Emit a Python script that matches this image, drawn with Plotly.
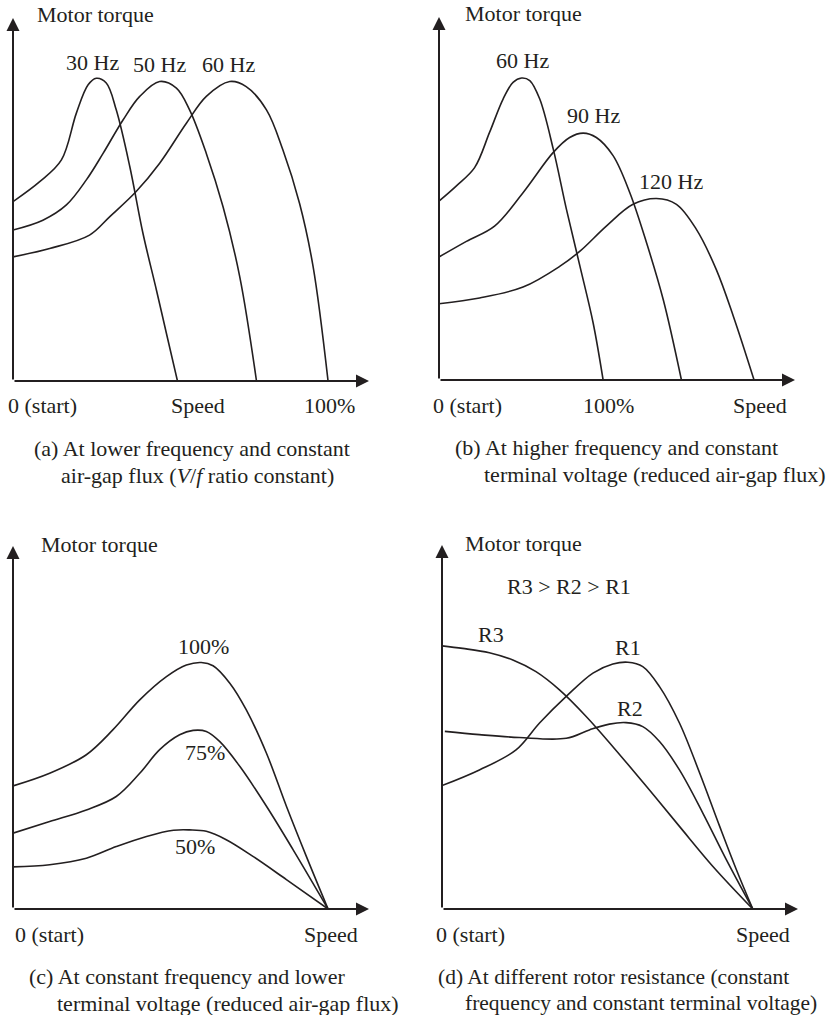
import plotly.graph_objects as go

# ---------------- data (speed %, torque %) ----------------
# Panel (a): lower frequency, constant air-gap flux
a_labels = ["30 Hz", "50 Hz", "60 Hz"]
a_speed_30 = [0, 7.5, 13.6, 17.8, 21.1, 23.4, 26.2, 29.0, 32.8, 36.5, 40.3, 43.1, 46.2]
a_torque_30 = [49.4, 54.9, 60.9, 73.8, 81.6, 83.4, 82.1, 74.7, 59.1, 40.7, 25.0, 13.1, 0]
a_speed_50 = [0, 8.4, 15.0, 20.6, 25.3, 30.9, 35.6, 41.2, 45.9, 49.6, 54.3, 59.0, 63.7, 68.4]
a_torque_50 = [41.6, 44.3, 48.5, 55.4, 62.7, 71.9, 78.4, 82.5, 80.7, 74.7, 62.7, 48.0, 28.7, 0]
a_speed_60 = [0, 10.3, 21.5, 27.2, 34.6, 41.2, 48.7, 54.3, 60.9, 65.5, 71.2, 75.8, 80.5, 84.3, 88.5]
a_torque_60 = [34.2, 36.5, 40.2, 45.3, 52.2, 60.0, 71.0, 78.4, 82.5, 81.1, 74.7, 63.7, 48.9, 31.5, 0]

# Panel (b): higher frequency, constant terminal voltage
b_labels = ["60 Hz", "90 Hz", "120 Hz"]
b_speed_60 = [0, 4.9, 10.0, 14.2, 18.0, 20.8, 23.2, 25.5, 28.3, 32.1, 35.8, 39.6, 43.3, 46.1]
b_torque_60 = [49.3, 53.5, 58.5, 68.2, 77.4, 82.0, 83.2, 82.5, 77.4, 63.6, 47.0, 31.3, 15.7, 0]
b_speed_90 = [0, 7.7, 15.6, 23.6, 32.1, 36.7, 40.5, 44.2, 48.9, 53.6, 58.3, 63.0, 68.1]
b_torque_90 = [33.9, 38.2, 42.4, 51.6, 62.7, 66.8, 68.0, 66.8, 61.8, 51.6, 37.8, 22.1, 0]
b_speed_120 = [0, 11.4, 23.6, 33.9, 39.6, 47.0, 54.5, 61.1, 66.7, 72.3, 77.9, 82.7, 88.5]
b_torque_120 = [21.0, 22.6, 25.6, 31.3, 35.5, 42.4, 48.4, 50.0, 48.4, 41.5, 30.4, 17.5, 0]

# Panel (c): constant frequency, lower terminal voltage
c_labels = ["100%", "75%", "50%"]
c_speed_100 = [0, 10.3, 20.6, 28.1, 35.6, 43.1, 48.7, 52.9, 56.2, 60.9, 65.5, 71.2, 76.8, 82.4, 88.5]
c_torque_100 = [33.9, 37.4, 42.5, 49.4, 57.6, 64.0, 67.2, 67.9, 67.0, 62.2, 54.9, 42.9, 28.3, 14.5, 0]
c_speed_75 = [0, 10.3, 20.6, 29.0, 35.6, 41.2, 46.8, 50.6, 54.3, 58.1, 63.7, 71.2, 78.7, 88.5]
c_torque_75 = [20.9, 24.1, 27.3, 31.0, 37.4, 43.9, 48.0, 49.2, 48.9, 46.1, 39.3, 28.3, 16.3, 0]
c_speed_50 = [0, 10.3, 20.6, 29.0, 37.5, 45.1, 49.6, 54.3, 59.9, 67.4, 76.8, 88.5]
c_torque_50 = [11.6, 12.2, 14.0, 17.2, 20.0, 21.7, 21.8, 21.4, 19.1, 14.5, 8.1, 0]

# Panel (d): different rotor resistance
d_labels = ["R1", "R2", "R3"]
d_speed_r3 = [0, 5.8, 13.3, 19.9, 26.4, 33.0, 40.5, 48.0, 57.4, 66.7, 76.1, 87.3]
d_torque_r3 = [72.3, 71.6, 70.4, 68.4, 65.2, 60.2, 52.9, 44.6, 33.7, 22.7, 11.7, 0]
d_speed_r1 = [0, 10.5, 20.8, 27.4, 34.9, 42.4, 48.0, 52.2, 56.4, 61.1, 66.7, 72.4, 78.0, 82.7, 87.3]
d_torque_r1 = [33.9, 38.2, 43.7, 51.1, 58.4, 64.8, 67.3, 67.8, 66.6, 61.1, 51.1, 37.3, 22.7, 10.8, 0]
d_speed_r2 = [0.8, 10.5, 21.7, 34.9, 41.4, 47.0, 51.7, 56.4, 61.1, 66.7, 73.3, 79.9, 87.3]
d_torque_r2 = [48.8, 47.9, 47.1, 46.9, 49.2, 50.8, 51.2, 50.1, 46.0, 38.2, 26.3, 13.5, 0]

axis_title_y = "Motor torque"
captions = {
    "a": ["(a) At lower frequency and constant", "air-gap flux (<i>V</i>/<i>f</i> ratio constant)"],
    "b": ["(b) At higher frequency and constant", "terminal voltage (reduced air-gap flux)"],
    "c": ["(c) At constant frequency and lower", "terminal voltage (reduced air-gap flux)"],
    "d": ["(d) At different rotor resistance (constant", "frequency and constant terminal voltage)"],
}

# ---------------- figure ----------------
W, H = 826, 1015
INK = "#231f20"
FONT = "Liberation Serif"
FS = 22

fig = go.Figure()

# panel domains (paper fractions)
domains = {
    "a": ([13 / W, 369 / W], [1 - 381 / H, 1 - 18 / H]),
    "b": ([439 / W, 795 / W], [1 - 380 / H, 1 - 17 / H]),
    "c": ([13 / W, 369 / W], [1 - 909 / H, 1 - 546 / H]),
    "d": ([442 / W, 798 / W], [1 - 909 / H, 1 - 545 / H]),
}
axis_ids = {"a": ("x", "y"), "b": ("x2", "y2"), "c": ("x3", "y3"), "d": ("x4", "y4")}

for k, (xd, yd) in domains.items():
    xa, ya = axis_ids[k]
    xname = "xaxis" + xa[1:]
    yname = "yaxis" + ya[1:]
    fig.layout[xname] = dict(domain=xd, range=[0, 100], visible=False, anchor=ya, fixedrange=True)
    fig.layout[yname] = dict(domain=yd, range=[0, 100], visible=False, anchor=xa, fixedrange=True)

def curve(k, xs, ys):
    xa, ya = axis_ids[k]
    fig.add_trace(go.Scatter(
        x=xs, y=ys, xaxis=xa, yaxis=ya, mode="lines",
        line=dict(color=INK, width=1.6, shape="spline", smoothing=1.0),
        cliponaxis=False, showlegend=False, hoverinfo="skip",
    ))

curve("a", a_speed_30, a_torque_30)
curve("a", a_speed_50, a_torque_50)
curve("a", a_speed_60, a_torque_60)
curve("b", b_speed_60, b_torque_60)
curve("b", b_speed_90, b_torque_90)
curve("b", b_speed_120, b_torque_120)
curve("c", c_speed_100, c_torque_100)
curve("c", c_speed_75, c_torque_75)
curve("c", c_speed_50, c_torque_50)
curve("d", d_speed_r3, d_torque_r3)
curve("d", d_speed_r1, d_torque_r1)
curve("d", d_speed_r2, d_torque_r2)

def arrow(k, x, y):
    xa, ya = axis_ids[k]
    fig.add_annotation(
        x=x, y=y, ax=0, ay=0, xref=xa, yref=ya, axref=xa, ayref=ya,
        text="", showarrow=True, arrowhead=2, arrowsize=1.3, arrowwidth=2,
        arrowcolor=INK, standoff=0, startstandoff=0,
    )

def label(k, x, y, text, anchor="center", size=FS):
    # position given in the panel's axis units; converted through the axis domain
    (x0, x1), (y0, y1) = domains[k]
    fig.add_annotation(
        x=x0 + x / 100 * (x1 - x0), y=y0 + y / 100 * (y1 - y0),
        xref="paper", yref="paper", text=text, showarrow=False,
        xanchor=anchor, yanchor="middle",
        font=dict(family=FONT, size=size, color=INK),
    )

for k in "abcd":
    arrow(k, 100, 0)
    arrow(k, 0, 100)

# axis titles and tick-like labels
label("a", 6.1, 100.9, axis_title_y, "left")
label("a", -1.9, -6.7, "0 (start)", "left")
label("a", 52.0, -6.7, "Speed")
label("a", 89.0, -6.7, "100%")

label("b", 6.7, 100.9, axis_title_y, "left")
label("b", -2.2, -6.9, "0 (start)", "left")
label("b", 47.5, -6.9, "100%")
label("b", 90.2, -6.9, "Speed")

label("c", 7.3, 100.3, axis_title_y, "left")
label("c", 0.0, -7.1, "0 (start)", "left")
label("c", 89.4, -7.1, "Speed")

label("d", 5.8, 100.3, axis_title_y, "left")
label("d", -2.2, -7.1, "0 (start)", "left")
label("d", 90.2, -7.1, "Speed")

# curve labels
label("a", 22.3, 87.8, a_labels[0])
label("a", 41.2, 87.3, a_labels[1])
label("a", 60.4, 87.3, a_labels[2])

label("b", 23.4, 88.0, b_labels[0])
label("b", 43.3, 72.8, b_labels[1])
label("b", 65.3, 54.8, b_labels[2])

label("c", 53.6, 72.3, c_labels[0])
label("c", 54.0, 43.1, c_labels[1])
label("c", 51.0, 17.1, c_labels[2])

label("d", 35.8, 88.6, "R3 &gt; R2 &gt; R1")
label("d", 13.8, 75.3, d_labels[2])
label("d", 52.2, 71.9, d_labels[0])
label("d", 52.7, 55.2, d_labels[1])

# captions
cap_pos = {
    "a": ((5.3, -18.5), (12.9, -25.9)),
    "b": ((3.9, -18.5), (12.1, -26.0)),
    "c": ((3.9, -18.7), (11.8, -25.9)),
    "d": ((-1.6, -18.7), (5.9, -25.9)),
}
for k, ((x1, y1), (x2, y2)) in cap_pos.items():
    sz = FS if k != "d" else FS - 0.5
    label(k, x1, y1, captions[k][0], "left", sz)
    label(k, x2, y2, captions[k][1], "left", sz)

fig.update_layout(
    width=W, height=H,
    margin=dict(l=0, r=0, t=0, b=0),
    paper_bgcolor="white", plot_bgcolor="white",
    showlegend=False,
    font=dict(family=FONT, size=FS, color=INK),
)

fig.write_html(
    "out.html",
    config={"displayModeBar": False},
    post_script="document.body.style.margin='0';document.body.style.overflow='hidden';",
)
